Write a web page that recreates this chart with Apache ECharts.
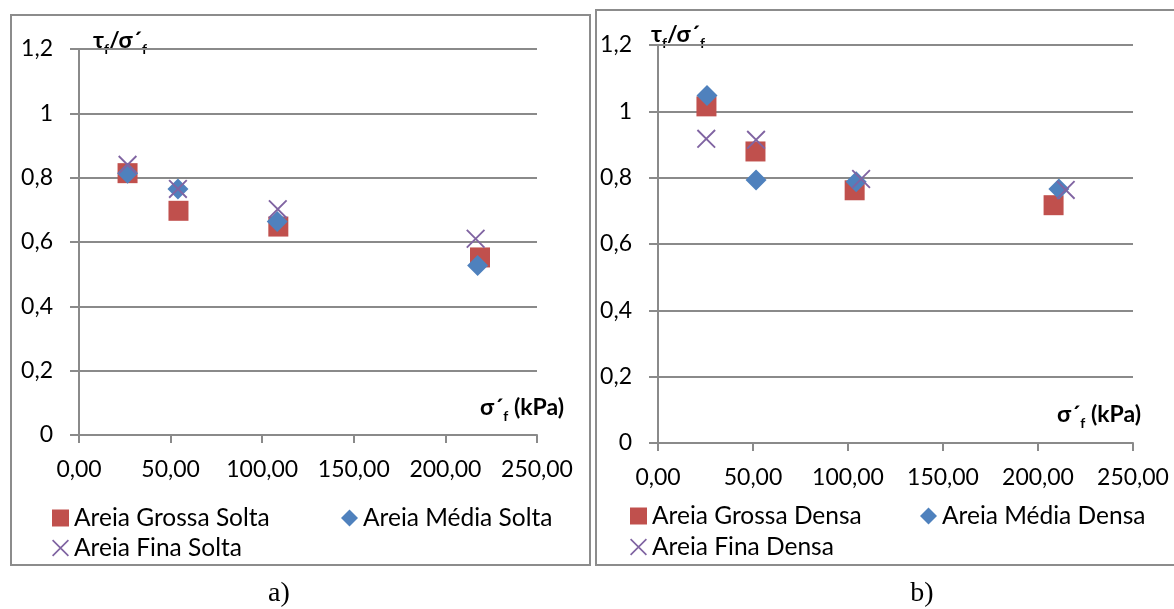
<!DOCTYPE html>
<html>
<head>
<meta charset="utf-8">
<script src="https://cdn.jsdelivr.net/npm/echarts/dist/echarts.min.js"></script>
<style>
  html, body { margin: 0; padding: 0; background: #ffffff; }
  #chart { width: 1174px; height: 609px; }
</style>
</head>
<body>
<div id="chart"></div>
<script>
// Axis ticks
const xTicks = [0, 50, 100, 150, 200, 250];
const yTicks = [0, 0.2, 0.4, 0.6, 0.8, 1.0, 1.2];

// a) loose sands: σ'f (kPa) and τf/σ'f
const grossaSoltaX = [26.5, 54.3, 108.8, 218.9];
const grossaSoltaY = [0.814, 0.697, 0.648, 0.552];
const mediaSoltaX  = [26.5, 54.0, 108.2, 217.6];
const mediaSoltaY  = [0.814, 0.765, 0.664, 0.527];
const finaSoltaX   = [26.5, 54.0, 108.5, 216.5];
const finaSoltaY   = [0.840, 0.765, 0.702, 0.610];

// b) dense sands
const grossaDensaX = [25.5, 51.3, 103.5, 208.2];
const grossaDensaY = [1.015, 0.879, 0.762, 0.717];
const mediaDensaX  = [25.8, 51.6, 104.3, 211.0];
const mediaDensaY  = [1.048, 0.793, 0.788, 0.766];
const finaDensaX   = [25.4, 51.6, 106.9, 214.6];
const finaDensaY   = [0.917, 0.914, 0.796, 0.763];

const namesA = ['Areia Grossa Solta', 'Areia Média Solta', 'Areia Fina Solta'];
const namesB = ['Areia Grossa Densa', 'Areia Média Densa', 'Areia Fina Densa'];

const FONT = 'Lato';
const GRID = '#8a8a8a';
const RED = '#C0504D';
const BLUE = '#4F81BD';
const PURPLE = '#8064A2';
// thin "x" mark as two filled diagonal bars
const CROSS = 'path://M0,7L7,0L100,93L93,100ZM93,0L100,7L7,100L0,93Z';

const zip = (xs, ys) => xs.map((x, i) => [x, ys[i]]);
const fmtX = v => v.toFixed(2).replace('.', ',');
const fmtY = v => String(+v.toFixed(1)).replace('.', ',');

function xAxis(gi) {
  return {
    type: 'value', gridIndex: gi,
    min: xTicks[0], max: xTicks[xTicks.length - 1], interval: xTicks[1] - xTicks[0],
    axisLine: { show: true, lineStyle: { color: GRID, width: 2 } },
    axisTick: { show: true, length: 8, lineStyle: { color: GRID, width: 2 } },
    splitLine: { show: false },
    axisLabel: { margin: 23, color: '#000', fontFamily: FONT, fontSize: 23, formatter: fmtX }
  };
}
function yAxis(gi) {
  return {
    type: 'value', gridIndex: gi,
    min: yTicks[0], max: yTicks[yTicks.length - 1], interval: 0.2,
    axisLine: { show: true, lineStyle: { color: GRID, width: 2 } },
    axisTick: { show: true, length: 9, lineStyle: { color: GRID, width: 2 } },
    splitLine: { show: true, lineStyle: { color: GRID, width: 2 } },
    axisLabel: { margin: 26, color: '#000', fontFamily: FONT, fontSize: 23, formatter: fmtY }
  };
}

const markStyles = [
  { symbol: 'rect', symbolSize: 20, itemStyle: { color: RED, opacity: 1 } },
  { symbol: 'diamond', symbolSize: 21, itemStyle: { color: BLUE, opacity: 1 } },
  { symbol: CROSS, symbolSize: 19, itemStyle: { color: PURPLE, opacity: 1 } }
];

function scatter(name, gi, k, xs, ys) {
  return Object.assign({
    name, type: 'scatter', xAxisIndex: gi, yAxisIndex: gi,
    data: zip(xs, ys), silent: true, z: 2 + k
  }, markStyles[k]);
}

const legendBase = {
  orient: 'horizontal', padding: 0, itemWidth: 17, itemHeight: 17, itemGap: 0,
  selectedMode: false,
  itemStyle: { opacity: 1 },
  textStyle: { fontFamily: FONT, fontSize: 24.5, color: '#000', lineHeight: 26 }
};

const titleRich = {
  m: { fontFamily: FONT, fontSize: 23, fontWeight: 'bold', color: '#000' },
  s: { fontFamily: FONT, fontSize: 14, fontWeight: 'bold', color: '#000', padding: [18, 0, 0, 0] }
};
function label(x, y, text) {
  return { type: 'text', left: x, top: y, silent: true,
    style: { text, rich: titleRich, fill: '#000' } };
}
function box(x, y, w, h) {
  return { type: 'rect', silent: true, z: 0,
    shape: { x, y, width: w, height: h },
    style: { fill: 'none', stroke: '#8c8c8c', lineWidth: 2 } };
}
function caption(x, text) {
  return { type: 'text', silent: true,
    style: { x, y: 594, text, align: 'center', verticalAlign: 'middle',
      fontFamily: 'Liberation Serif', fontSize: 28, fill: '#000' } };
}

const chart = echarts.init(document.getElementById('chart'));
chart.setOption({
  animation: false,
  backgroundColor: '#fff',
  grid: [
    { left: 79, top: 49, width: 458, height: 386 },
    { left: 658, top: 45, width: 475, height: 398 }
  ],
  xAxis: [xAxis(0), xAxis(1)],
  yAxis: [yAxis(0), yAxis(1)],
  legend: [
    Object.assign({}, legendBase, { data: [namesA[0]], left: 52, top: 505 }),
    Object.assign({}, legendBase, { data: [namesA[1]], left: 341, top: 505 }),
    Object.assign({}, legendBase, { data: [namesA[2]], left: 52, top: 535 }),
    Object.assign({}, legendBase, { data: [namesB[0]], left: 630, top: 503 }),
    Object.assign({}, legendBase, { data: [namesB[1]], left: 920, top: 503 }),
    Object.assign({}, legendBase, { data: [namesB[2]], left: 630, top: 534 })
  ],
  graphic: [
    box(11, 15, 579, 550),
    box(596, 10, 600, 555),
    label(93, 29, '{m|τ}{s|f}{m|/σ´}{s|f}'),
    label(651, 23, '{m|τ}{s|f}{m|/σ´}{s|f}'),
    label(480, 396, '{m|σ´}{s|f}{m| (kPa)}'),
    label(1057, 403, '{m|σ´}{s|f}{m| (kPa)}'),
    caption(279, 'a)'),
    caption(922, 'b)')
  ],
  series: [
    scatter(namesA[0], 0, 0, grossaSoltaX, grossaSoltaY),
    scatter(namesA[1], 0, 1, mediaSoltaX, mediaSoltaY),
    scatter(namesA[2], 0, 2, finaSoltaX, finaSoltaY),
    scatter(namesB[0], 1, 0, grossaDensaX, grossaDensaY),
    scatter(namesB[1], 1, 1, mediaDensaX, mediaDensaY),
    scatter(namesB[2], 1, 2, finaDensaX, finaDensaY)
  ]
});
</script>
</body>
</html>
